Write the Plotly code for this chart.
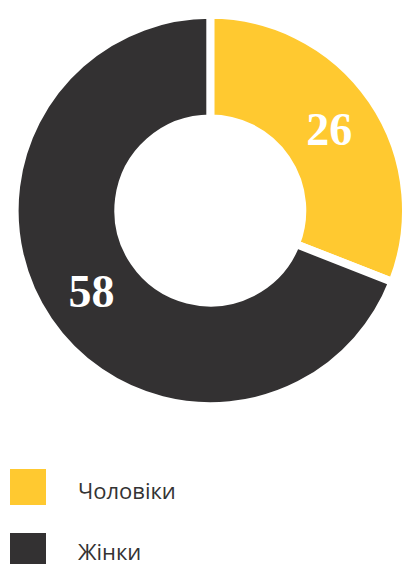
import plotly.graph_objects as go

categories = ["Чоловіки", "Жінки"]
values = [26, 58]
colors = ["#FFC930", "#333132"]

W, H = 406, 564

def px_x(x):
    return x / W

def px_y(y):
    return 1 - y / H

fig = go.Figure()
fig.add_trace(go.Pie(
    labels=categories,
    values=values,
    hole=0.47,
    sort=False,
    direction="clockwise",
    rotation=0,
    marker=dict(colors=colors, line=dict(color="white", width=8)),
    texttemplate="<b>%{value}</b>",
    textposition="inside",
    insidetextorientation="horizontal",
    textfont=dict(family="Liberation Serif", size=46, color="white"),
    showlegend=False,
    hoverinfo="label+value",
    domain=dict(x=[0.036, 1.0], y=[0.277, 0.9765]),
))

# legend drawn as swatches + labels
legend_rows = [(469, 505, 490), (533, 569, 551)]
for (y0, y1, yc), name, col in zip(legend_rows, categories, colors):
    fig.add_shape(type="rect", xref="paper", yref="paper",
                  x0=px_x(10), x1=px_x(46), y0=px_y(y1), y1=px_y(y0),
                  fillcolor=col, line=dict(width=0))
    fig.add_annotation(xref="paper", yref="paper", x=px_x(76), y=px_y(yc),
                       text=name, showarrow=False, xanchor="left", yanchor="middle",
                       font=dict(family="Open Sans", size=22, color="#333333"))

fig.update_layout(
    width=W, height=H,
    margin=dict(l=0, r=0, t=0, b=0),
    paper_bgcolor="white",
    plot_bgcolor="white",
)

fig.write_html("out.html", config={"displayModeBar": False},
               post_script="document.body.style.margin='0';")
